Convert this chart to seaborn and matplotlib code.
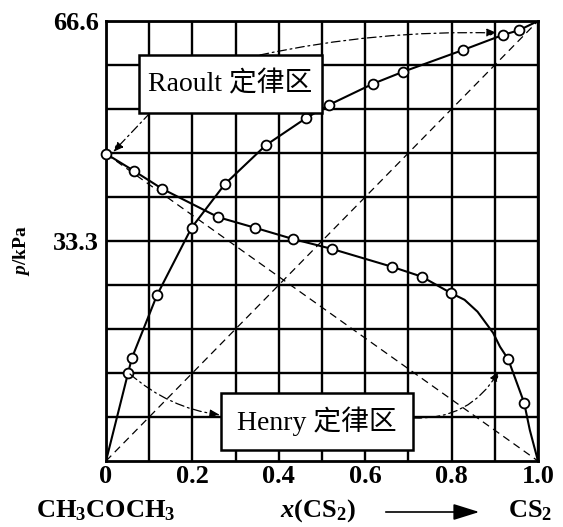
import numpy as np
import pandas as pd
import matplotlib
matplotlib.use("Agg")
import matplotlib.pyplot as plt
from matplotlib.patches import Rectangle
import seaborn as sns

# ---------------- data ----------------
# CS2 partial pressure: measured points
x_cs2_pts = [0.051, 0.060, 0.118, 0.198, 0.275, 0.370, 0.463, 0.516, 0.618, 0.687, 0.826, 0.919, 0.956]
p_cs2_pts = [13.3, 15.6, 25.1, 35.3, 41.9, 47.8, 51.9, 53.9, 57.1, 58.9, 62.2, 64.5, 65.2]
# CS2 drawn curve (traced, includes end points)
x_cs2_curve = [0.0, 0.051, 0.060, 0.118, 0.198, 0.275, 0.370, 0.463, 0.516, 0.618, 0.687, 0.826, 0.919, 0.956, 1.0]
p_cs2_curve = [0.0, 13.3, 15.6, 25.1, 35.3, 41.9, 47.8, 51.9, 53.9, 57.1, 58.9, 62.2, 64.5, 65.2, 66.6]

# acetone partial pressure: measured points
x_ac_pts = [0.0, 0.065, 0.130, 0.260, 0.345, 0.433, 0.523, 0.662, 0.731, 0.799, 0.931, 0.968]
p_ac_pts = [46.5, 43.9, 41.2, 36.9, 35.3, 33.6, 32.1, 29.4, 27.9, 25.4, 15.4, 8.8]
# acetone drawn curve (traced)
x_ac_curve = [0.0, 0.065, 0.130, 0.260, 0.345, 0.433, 0.523, 0.662, 0.731, 0.799, 0.830, 0.860, 0.896, 0.912, 0.931, 0.968, 0.981, 1.0]
p_ac_curve = [46.5, 43.9, 41.2, 36.9, 35.3, 33.6, 32.1, 29.4, 27.9, 25.4, 24.4, 22.6, 19.4, 17.3, 15.4, 8.8, 4.7, 0.0]

# Raoult's-law straight lines
x_raoult = [0.0, 1.0]
p_raoult_cs2 = [0.0, 66.6]
p_raoult_ac = [46.5, 0.0]

x_ticks = [0.0, 0.2, 0.4, 0.6, 0.8, 1.0]
x_ticklabels = ["0", "0.2", "0.4", "0.6", "0.8", "1.0"]
y_ticks = [33.3, 66.6]
y_ticklabels = ["33.3", "66.6"]

# ---------------- style ----------------
sns.set_theme(style="white")
plt.rcParams["font.family"] = ["Liberation Serif", "Noto Sans CJK SC"]
plt.rcParams["mathtext.fontset"] = "custom"
plt.rcParams["mathtext.rm"] = "Liberation Serif:bold"
plt.rcParams["mathtext.it"] = "Liberation Serif:italic:bold"
plt.rcParams["mathtext.bf"] = "Liberation Serif:bold"

W, H = 563, 527
fig = plt.figure(figsize=(W / 100, H / 100), dpi=100)
fig.patch.set_facecolor("white")
ax = fig.add_axes([106 / W, 1 - 461 / H, 432 / W, 440 / H])
ax.set_facecolor("white")


def fpx(x, y):
    return (x / W, 1 - y / H)


def dpx(x, y):
    return ((x - 106) / 432, (461 - y) / 440 * 66.6)


GRID_LW = 1.7

# Raoult lines (dashed)
sns.lineplot(x=x_raoult, y=p_raoult_cs2, ax=ax, color="black", lw=0.9,
             linestyle=(0, (6, 4)), estimator=None, sort=False, zorder=3)
sns.lineplot(x=x_raoult, y=p_raoult_ac, ax=ax, color="black", lw=0.9,
             linestyle=(0, (6, 4)), estimator=None, sort=False, zorder=3)

# curves
sns.lineplot(x=x_cs2_curve, y=p_cs2_curve, ax=ax, color="black", lw=1.5,
             estimator=None, sort=False, zorder=4)
sns.lineplot(x=x_ac_curve, y=p_ac_curve, ax=ax, color="black", lw=1.5,
             estimator=None, sort=False, zorder=4)

# measured points (open circles)
sns.scatterplot(x=x_cs2_pts, y=p_cs2_pts, ax=ax, marker="o", s=50,
                facecolor="white", edgecolor="black", linewidth=1.3, zorder=6, clip_on=False)
sns.scatterplot(x=x_ac_pts, y=p_ac_pts, ax=ax, marker="o", s=50,
                facecolor="white", edgecolor="black", linewidth=1.3, zorder=6, clip_on=False)

# axes & grid
ax.set_xlim(0, 1)
ax.set_ylim(0, 66.6)
ax.set_xticks(x_ticks)
ax.set_xticklabels(x_ticklabels)
ax.set_xticks([0.1, 0.3, 0.5, 0.7, 0.9], minor=True)
ax.set_yticks(y_ticks)
ax.set_yticklabels(y_ticklabels)
ax.set_yticks([v for v in np.linspace(0, 66.6, 11)[1:-1] if abs(v - 33.3) > 0.1], minor=True)
ax.grid(which="both", color="black", lw=GRID_LW, zorder=1)
ax.set_axisbelow(True)
for s in ax.spines.values():
    s.set_color("black")
    s.set_linewidth(GRID_LW + 0.3)
ax.tick_params(which="both", length=0)
ax.tick_params(axis="x", pad=3, labelsize=19)
ax.tick_params(axis="y", pad=5, labelsize=19)
for lab in ax.get_xticklabels() + ax.get_yticklabels():
    lab.set_fontweight("bold")
    lab.set_color("black")
ax.set_xlabel("")
ax.set_ylabel("")

# annotation boxes
box_font = dict(family=["Liberation Serif", "Noto Sans CJK SC"], size=20, color="black")
for (x0, y0, x1, y1, label) in [(139, 55, 322, 113, "Raoult 定律区"),
                                 (221, 393, 413, 450, "Henry 定律区")]:
    rect = Rectangle(fpx(x0, y1), (x1 - x0) / W, (y1 - y0) / H, transform=fig.transFigure,
                     facecolor="white", edgecolor="black", lw=1.8, zorder=10, clip_on=False)
    ax.add_patch(rect)
    cx, cy = fpx((x0 + x1) / 2, (y0 + y1) / 2)
    ax.text(cx, cy, label, transform=fig.transFigure, ha="center", va="center",
            zorder=11, **box_font)

dashdot = (0, (7, 3, 1.5, 3))
arrow_kw = dict(arrowstyle="-|>,head_length=0.5,head_width=0.2", color="black", lw=0.9,
                linestyle=dashdot, shrinkA=0, shrinkB=0)

# Raoult -> acetone pure end
ax.annotate("", xy=dpx(113, 152), xytext=dpx(150, 113),
            arrowprops=dict(connectionstyle="arc3,rad=0", **arrow_kw), zorder=9)
# Raoult -> CS2 pure end
ax.annotate("", xy=dpx(497, 33), xytext=dpx(260, 55),
            arrowprops=dict(connectionstyle="arc3,rad=-0.06", **arrow_kw), zorder=9)
# Henry -> dilute CS2
ax.annotate("", xy=dpx(220, 415), xytext=dpx(130, 374),
            arrowprops=dict(connectionstyle="arc3,rad=0.15", **arrow_kw), zorder=9)
# Henry -> dilute acetone
ax.annotate("", xy=dpx(499, 371), xytext=dpx(413, 418),
            arrowprops=dict(connectionstyle="arc3,rad=0.3", **arrow_kw), zorder=9)

# outer labels
lab_kw = dict(color="black", fontweight="bold", fontsize=19)
fig.text(*fpx(21, 251), r"$p$/kPa", rotation=90, ha="center", va="center",
         color="black", fontweight="bold", fontsize=14)
fig.text(*fpx(106, 517), r"CH$_\mathrm{3}$COCH$_\mathrm{3}$", ha="center", va="baseline", **lab_kw)
fig.text(*fpx(318, 517), r"$x$(CS$_\mathrm{2}$)", ha="center", va="baseline", **lab_kw)
fig.text(*fpx(530, 517), r"CS$_\mathrm{2}$", ha="center", va="baseline", **lab_kw)
fig.add_artist(matplotlib.patches.FancyArrowPatch(
    fpx(383, 512), fpx(482, 512), transform=fig.transFigure,
    arrowstyle="-|>,head_length=0.8,head_width=0.25", mutation_scale=20,
    color="black", lw=1.2))

fig.savefig("out.png", dpi=100, facecolor="white")
